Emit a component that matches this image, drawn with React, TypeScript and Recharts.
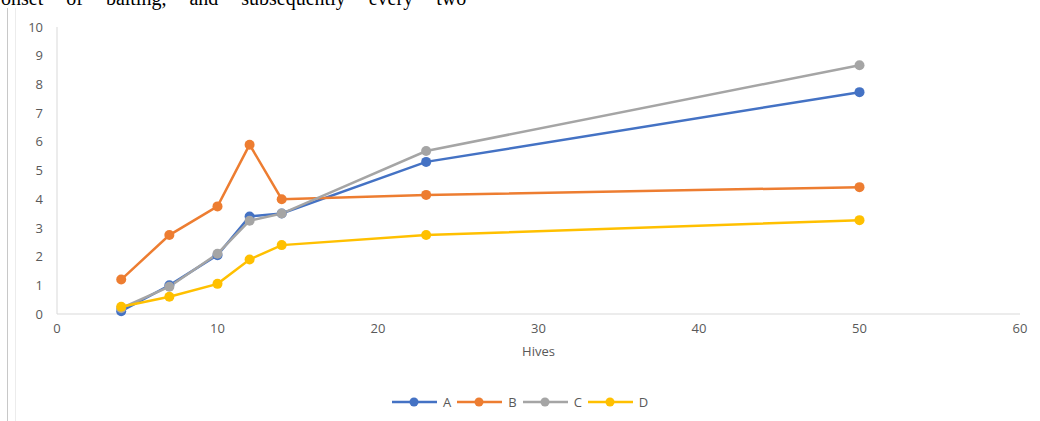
import React from 'react';
import { LineChart, Line, XAxis, YAxis, Legend } from 'recharts';

const hives = [4, 7, 10, 12, 14, 23, 50];
const seriesA = [0.1, 1.0, 2.05, 3.4, 3.5, 5.3, 7.73];
const seriesB = [1.2, 2.75, 3.75, 5.9, 4.0, 4.15, 4.42];
const seriesC = [0.2, 0.95, 2.1, 3.25, 3.5, 5.68, 8.67];
const seriesD = [0.25, 0.6, 1.05, 1.9, 2.4, 2.75, 3.27];

const xTicks = [0, 10, 20, 30, 40, 50, 60];
const yTicks = [0, 1, 2, 3, 4, 5, 6, 7, 8, 9, 10];

const series = [
  { key: 'A', color: '#4472C4' },
  { key: 'B', color: '#ED7D31' },
  { key: 'C', color: '#A5A5A5' },
  { key: 'D', color: '#FFC000' },
];

const rows = hives.map((h, i) => ({
  hives: h,
  A: seriesA[i],
  B: seriesB[i],
  C: seriesC[i],
  D: seriesD[i],
}));

const tickStyle = { fill: '#595959', fontSize: 13, fontFamily: 'Open Sans, sans-serif' };

function LegendContent({ payload }: { payload?: Array<{ value: string; color: string }> }) {
  if (!payload) return null;
  return (
    <div style={{ display: 'flex', alignItems: 'center', fontFamily: 'Open Sans, sans-serif', fontSize: 13, color: '#595959' }}>
      {payload.map((p) => (
        <div key={p.value} style={{ display: 'flex', alignItems: 'center', marginRight: 6 }}>
          <svg width={45} height={12}>
            <line x1={0} y1={6} x2={45} y2={6} stroke={p.color} strokeWidth={2.5} />
            <circle cx={22} cy={6} r={4.5} fill={p.color} />
          </svg>
          <span style={{ marginLeft: 6 }}>{p.value}</span>
        </div>
      ))}
    </div>
  );
}

export default function App() {
  return (
    <div style={{ position: 'absolute', left: 0, top: 0, width: 1040, height: 421, background: '#fff', overflow: 'hidden' }}>
      {/* tail of the paragraph sitting above the figure */}
      <div
        style={{
          position: 'absolute',
          left: 1,
          top: -13,
          fontFamily: 'Liberation Serif, serif',
          fontSize: 20,
          wordSpacing: 18,
          whiteSpace: 'nowrap',
          color: '#000',
        }}
      >
        onset of baiting, and subsequently every two
      </div>
      <div style={{ position: 'absolute', left: 7, top: 8, width: 1, height: 413, background: '#c8c8c8' }} />
      <div style={{ position: 'absolute', left: 15, top: 8, width: 1, height: 413, background: '#ececec' }} />
      <div style={{ position: 'absolute', left: 0, top: 0 }}>
        <LineChart width={1040} height={421} data={rows} margin={{ top: 27, right: 20, left: 0, bottom: 57 }}>
          <XAxis
            dataKey="hives"
            type="number"
            domain={[0, 60]}
            ticks={xTicks}
            tickLine={false}
            tickSize={0}
            tickMargin={10}
            height={50}
            axisLine={{ stroke: '#d9d9d9' }}
            tick={tickStyle}
            label={{ value: 'Hives', position: 'insideBottom', offset: 8, fill: '#595959', fontSize: 13, fontFamily: 'Open Sans, sans-serif' }}
          />
          <YAxis
            type="number"
            domain={[0, 10]}
            ticks={yTicks}
            width={57}
            tickLine={false}
            tickSize={0}
            tickMargin={14}
            axisLine={{ stroke: '#d9d9d9' }}
            tick={tickStyle}
          />
          <Legend
            layout="horizontal"
            verticalAlign="middle"
            align="center"
            wrapperStyle={{ top: 393, left: 392, width: 'auto' }}
            content={<LegendContent />}
          />
          {series.map((s) => (
            <Line
              key={s.key}
              dataKey={s.key}
              name={s.key}
              stroke={s.color}
              strokeWidth={2.5}
              dot={{ r: 5, fill: s.color, stroke: s.color, strokeWidth: 0 }}
              activeDot={false}
              isAnimationActive={false}
            />
          ))}
        </LineChart>
      </div>
    </div>
  );
}
